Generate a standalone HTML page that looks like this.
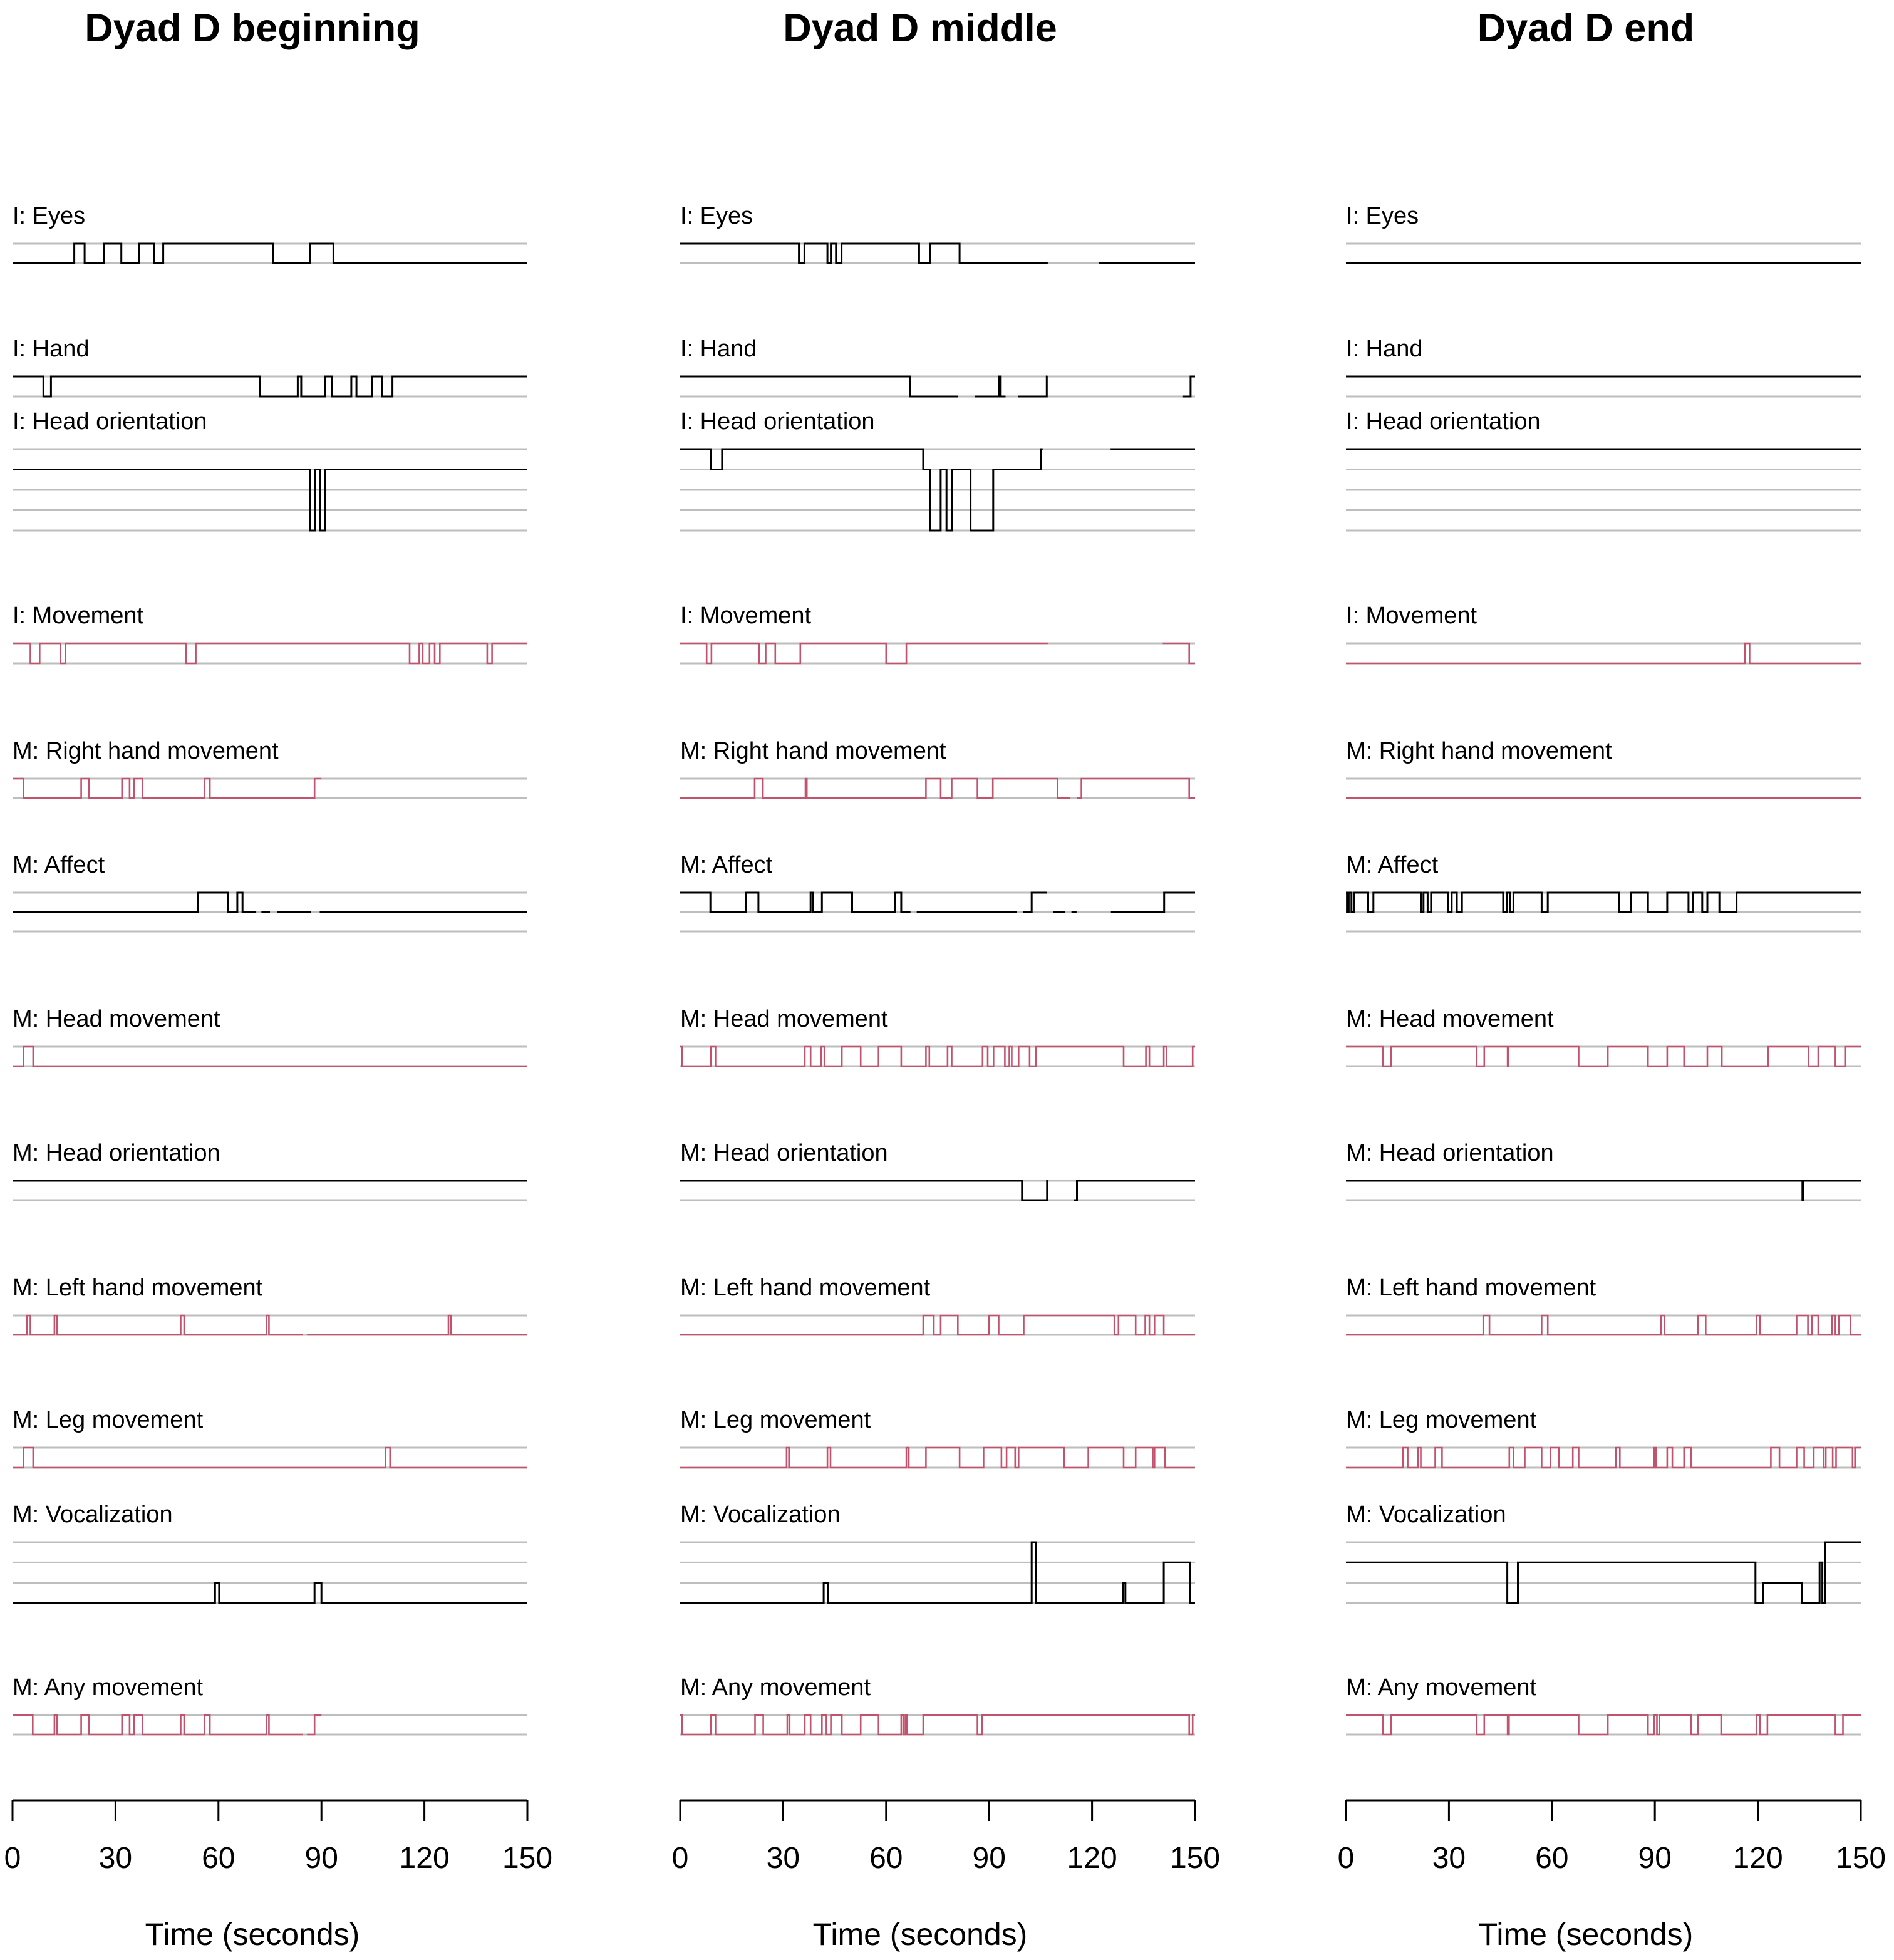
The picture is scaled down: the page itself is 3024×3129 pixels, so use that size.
<!DOCTYPE html>
<html><head><meta charset="utf-8"><style>
html,body{margin:0;padding:0;background:#fff;}
svg{display:block;}
text{font-family:"Liberation Sans",Arial,sans-serif;fill:#000;}
</style></head><body>
<svg id="chart" width="3024" height="3129" viewBox="0 0 3024 3129" xmlns="http://www.w3.org/2000/svg"></svg>
<script>
// ---- data ----
const panelTitles = ["Dyad D beginning","Dyad D middle","Dyad D end"];
const tickValues = [0,30,60,90,120,150];
const rowLabels = ["I: Eyes","I: Hand","I: Head orientation","I: Movement","M: Right hand movement","M: Affect","M: Head movement","M: Head orientation","M: Left hand movement","M: Leg movement","M: Vocalization","M: Any movement"];
const rowLevels = [2,2,5,2,2,3,2,2,2,2,4,2];
const rowIsRed = [false,false,false,true,true,false,true,false,true,true,false,true];

const beginSeries = [
 [[0,0],[18,1],[21,0],[26.7,1],[31.7,0],[36.9,1],[41.2,0],[43.9,1],[75.9,0],[86.7,1],[93.5,0]],
 [[0,1],[9,0],[11.2,1],[72,0],[83.1,1],[84.1,0],[91.1,1],[93.1,0],[98.7,1],[100.2,0],[104.7,1],[107.7,0],[110.7,1]],
 [[0,3],[86.7,0],[88.1,3],[89.5,0],[91.1,3]],
 [[0,1],[5.2,0],[7.9,1],[14,0],[15.4,1],[50.6,0],[53.4,1],[115.7,0],[118.5,1],[119.5,0],[121.5,1],[123,0],[124.5,1],[138.3,0],[139.7,1]],
 [[0,1],[3.2,0],[20,1],[22.2,0],[31.9,1],[34.1,0],[35.4,1],[37.9,0],[55.9,1],[57.5,0],[88,1],[90,null]],
 [[0,1],[54,2],[62.7,1],[65.5,2],[67,1],[71,null],[72.5,1],[75,null],[77,1],[87,null],[89.5,1]],
 [[0,0],[3.2,1],[6,0]],
 [[0,1]],
 [[0,0],[4.2,1],[5.2,0],[12.2,1],[12.9,0],[49,1],[50,0],[74,1],[74.7,0],[84.5,null],[85.8,0],[127,1],[127.7,0]],
 [[0,0],[3.2,1],[6,0],[108.7,1],[110,0]],
 [[0,0],[59,1],[60.2,0],[88,1],[90,0]],
 [[0,1],[5.9,0],[12.2,1],[12.9,0],[20,1],[22.2,0],[31.9,1],[34.1,0],[35.4,1],[37.9,0],[49,1],[50,0],[55.9,1],[57.5,0],[74,1],[74.7,0],[84.5,null],[85.8,0],[88,1],[90,null]]
];
const middleSeries = [
 [[0,1],[34.6,0],[36.2,1],[42.9,0],[43.9,1],[45.4,0],[47,1],[69.6,0],[72.8,1],[81.4,0],[107.1,null],[121.9,0]],
 [[0,1],[67,0],[81,null],[85.9,0],[92.8,1],[93.4,0],[94.8,null],[98.4,0],[106.8,1],[107,null],[146.5,0],[148.7,1]],
 [[0,4],[9,3],[12.2,4],[70.8,3],[72.8,0],[75.9,3],[77.6,0],[79.2,3],[84.6,0],[91.2,3],[105.1,4],[105.6,null],[125.4,4]],
 [[0,1],[7.7,0],[9.1,1],[23,0],[24.9,1],[27.7,0],[35,1],[60,0],[65.9,1],[107.1,null],[140.6,1],[148.3,0]],
 [[0,0],[21.7,1],[24.1,0],[36.5,1],[36.9,0],[71.6,1],[75.9,0],[79.1,1],[86.6,0],[91.1,1],[109.9,0],[113.6,null],[115.6,0],[116.9,1],[148.3,0]],
 [[0,2],[8.8,1],[19.2,2],[22.8,1],[38,2],[38.6,1],[41.3,2],[50.1,1],[62.6,2],[64.4,1],[67.1,null],[68.9,1],[98.1,null],[99.8,1],[102.4,2],[106.9,null],[108.6,1],[112.1,null],[114,1],[115.5,null],[125.5,1],[141,2]],
 [[0,1],[0.5,0],[9,1],[10.3,0],[36.3,1],[38,0],[41,1],[42,0],[47.1,1],[52.6,0],[57.8,1],[64.4,0],[71.6,1],[72.6,0],[77.9,1],[79.1,0],[88.1,1],[89.6,0],[91.3,1],[94.6,0],[95.9,1],[96.6,0],[98.6,1],[101.8,0],[103.6,1],[129.2,0],[135.7,1],[136.7,0],[140.9,1],[141.7,0],[149.3,1]],
 [[0,1],[99.6,0],[106.9,1],[107.1,null],[114.6,0],[115.6,1]],
 [[0,0],[70.8,1],[73.9,0],[75.9,1],[80.9,0],[89.9,1],[92.8,0],[100.1,1],[126.5,0],[127.7,1],[132.7,0],[135.5,1],[136.7,0],[138.2,1],[140.9,0]],
 [[0,0],[31,1],[31.7,0],[42.9,1],[43.8,0],[65.9,1],[66.6,0],[71.6,1],[81.4,0],[88.4,1],[93.6,0],[95.1,1],[97.6,0],[98.6,1],[111.9,0],[118.9,1],[129.2,0],[132.7,1],[137.7,0],[138.2,1],[141.2,0]],
 [[0,0],[41.8,1],[43.1,0],[102.4,3],[103.6,0],[129,1],[129.7,0],[140.9,2],[148.5,0]],
 [[0,1],[0.5,0],[9,1],[10.3,0],[21.8,1],[24.2,0],[31.2,1],[31.9,0],[36.3,1],[38,0],[41.3,1],[42.6,0],[43.9,1],[47.1,0],[52.6,1],[57.8,0],[64.4,1],[65,0],[65.6,1],[66.1,0],[70.8,1],[86.6,0],[87.9,1],[148.3,0],[149.3,1]]
];
const endSeries = [
 [[0,0]],
 [[0,1]],
 [[0,4]],
 [[0,0],[116.3,1],[117.6,0]],
 [[0,0]],
 [[0,2],[0.3,1],[0.8,2],[1.6,1],[2.3,2],[6.3,1],[8,2],[21.8,1],[22.6,2],[23.8,1],[24.8,2],[29.8,1],[30.8,2],[32.3,1],[33.8,2],[45.8,1],[46.8,2],[47.8,1],[48.8,2],[57,1],[58.8,2],[79.6,1],[83,2],[88,1],[93.6,2],[99.8,1],[101,2],[103.8,1],[105.3,2],[108.8,1],[113.8,2]],
 [[0,1],[10.8,0],[13.1,1],[38.1,0],[40.3,1],[47.1,0],[47.3,1],[67.8,0],[76.3,1],[88,0],[93.6,1],[98.5,0],[105.3,1],[109.5,0],[123,1],[134.8,0],[137.6,1],[142.6,0],[145.4,1]],
 [[0,1],[133,0],[133.3,1]],
 [[0,0],[40,1],[41.8,0],[57,1],[58.8,0],[91.8,1],[92.8,0],[102.5,1],[104.8,0],[119.6,1],[120.6,0],[131.3,1],[134.6,0],[135.8,1],[137.6,0],[141.6,1],[142.6,0],[143.6,1],[147,0]],
 [[0,0],[16.6,1],[18,0],[21,1],[21.8,0],[26,1],[28,0],[47.6,1],[48.8,0],[52.1,1],[57,0],[59.6,1],[62.1,0],[66.1,1],[67.8,0],[78.6,1],[79.8,0],[89.8,1],[90.3,0],[93.6,1],[95.1,0],[98.5,1],[100.5,0],[123.8,1],[126.3,0],[131.3,1],[133.5,0],[136.3,1],[139.1,0],[139.8,1],[141.8,0],[142.8,1],[147.6,0],[148.3,1]],
 [[0,2],[47,0],[50.1,2],[119.3,0],[121.5,1],[132.8,0],[138,2],[138.8,0],[139.6,3]],
 [[0,1],[10.8,0],[13.1,1],[38.1,0],[40.3,1],[47.1,0],[47.5,1],[67.8,0],[76.3,1],[88,0],[89.8,1],[90.6,0],[91.3,1],[100.5,0],[102.5,1],[109.3,0],[119.6,1],[120.6,0],[122.8,1],[142.6,0],[144.8,1]]
];
const allSeries = [beginSeries, middleSeries, endSeries];

// ---- layout ----
const NS = "http://www.w3.org/2000/svg";
const svg = document.getElementById('chart');
const panelLeft = [20, 1086, 2149];
const panelWidth = 822;
const tMax = 150;
const rowTop =    [389, 601, 717, 1027, 1243, 1425, 1671, 1885, 2100, 2311, 2462, 2738];
const rowBottom = [420, 633, 847, 1059, 1274, 1487, 1702, 1916, 2131, 2343, 2559, 2769];
const GRAY = "#bebebe", RED = "#c1536e";

function mk(tag, attrs, parent){
  const el = document.createElementNS(NS, tag);
  for (const k in attrs) el.setAttribute(k, attrs[k]);
  (parent||svg).appendChild(el);
  return el;
}
function xScale(p, t){ return panelLeft[p] + t / tMax * panelWidth; }
function yScale(r, lvl){
  const n = rowLevels[r];
  return rowBottom[r] - lvl * (rowBottom[r] - rowTop[r]) / (n - 1);
}

for (let p = 0; p < 3; p++) {
  const g = mk('g', {});
  
  
  const cx = panelLeft[p] + panelWidth/2 - 28;
  const title = mk('text', {x: cx, y: 66, 'text-anchor':'middle', 'font-size':63, 'font-weight':'bold'}, g);
  title.textContent = panelTitles[p];
  
  

  for (let r = 0; r < rowLabels.length; r++) {
    const rg = mk('g', {}, g);
    
    
    const lab = mk('text', {x: panelLeft[p], y: rowTop[r] - 32, 'font-size':38}, rg);
    lab.textContent = rowLabels[r];
    
    
    for (let l = 0; l < rowLevels[r]; l++) {
      const y = yScale(r, l);
      const gl = mk('line', {x1: xScale(p,0), x2: xScale(p,tMax), y1: y, y2: y, stroke: GRAY, 'stroke-width': 3}, rg);
      
      
    }
    const s = allSeries[p][r];
    let d = '', open = false;
    for (let i = 0; i < s.length; i++) {
      const t0 = s[i][0], v = s[i][1];
      const t1 = (i + 1 < s.length) ? s[i+1][0] : tMax;
      if (v === null) { open = false; continue; }
      const y = yScale(r, v);
      if (!open) { d += 'M' + xScale(p,t0).toFixed(1) + ' ' + y.toFixed(1); open = true; }
      else { d += 'L' + xScale(p,t0).toFixed(1) + ' ' + y.toFixed(1); }
      d += 'L' + xScale(p,t1).toFixed(1) + ' ' + y.toFixed(1);
    }
    const path = mk('path', {d: d, fill:'none', stroke: rowIsRed[r] ? RED : '#000', 'stroke-width': rowIsRed[r] ? 2.6 : 3, 'stroke-linejoin':'miter', 'stroke-linecap':'butt'}, rg);
    
    
  }

  const ag = mk('g', {}, g);
  
  
  const axisY = 2874;
  const al = mk('line', {x1: xScale(p,0), x2: xScale(p,tMax), y1: axisY, y2: axisY, stroke:'#000', 'stroke-width':3}, ag);
  
  
  for (const tv of tickValues) {
    const x = xScale(p, tv);
    const tk = mk('line', {x1:x, x2:x, y1:axisY, y2:axisY+33, stroke:'#000', 'stroke-width':3}, ag);
    
    
    const tl = mk('text', {x:x, y:2982, 'text-anchor':'middle', 'font-size':48}, ag);
    tl.textContent = String(tv);
    
    
  }
  const xt = mk('text', {x: cx, y: 3105, 'text-anchor':'middle', 'font-size':50}, ag);
  xt.textContent = 'Time (seconds)';
  
  
}
</script>
</body></html>
